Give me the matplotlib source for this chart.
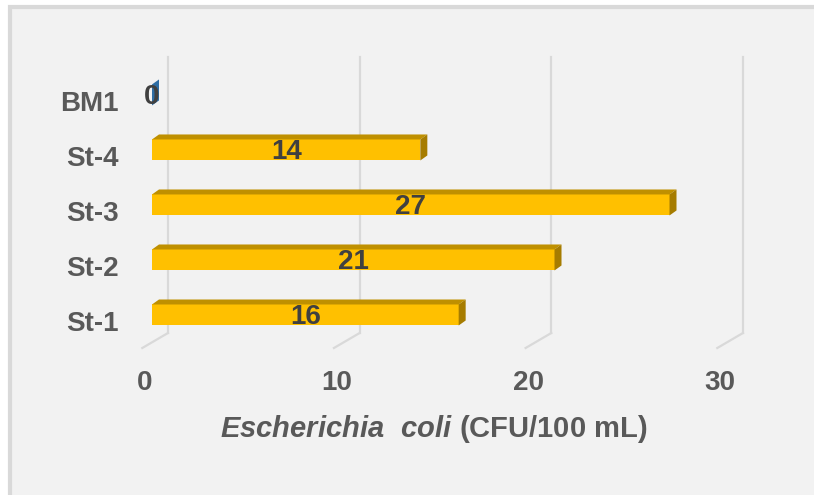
import matplotlib
matplotlib.use("Agg")
import matplotlib.pyplot as plt
from matplotlib.patches import Polygon, Rectangle
from matplotlib.transforms import ScaledTranslation

plt.rcParams['font.family'] = ['Liberation Sans', 'DejaVu Sans']
plt.rcParams['mathtext.fontset'] = 'custom'
plt.rcParams['mathtext.it'] = 'Liberation Sans:italic:bold'
plt.rcParams['mathtext.rm'] = 'Liberation Sans:bold'

# E. coli counts per station
stations = ['St-1', 'St-2', 'St-3', 'St-4', 'BM1']
ecoli = [16, 21, 27, 14, 0]
bar_colors = ['#ffc000', '#ffc000', '#ffc000', '#ffc000', '#2e6da4']
x_ticks = [0, 10, 20, 30]

top_c = '#bf9000'
side_c = '#a67c00'
grid_c = '#d9d9d9'

fig = plt.figure(figsize=(8.14, 4.95), dpi=100)
fig.patch.set_facecolor('white')
fig.add_artist(Rectangle((10 / 814, -0.05), 1.0, (495 - 6.5) / 495 + 0.05,
                         transform=fig.transFigure, facecolor='#f2f2f2',
                         edgecolor='#d9d9d9', linewidth=3, zorder=-5))

ax = fig.add_axes([152 / 814, 147 / 495, 575 / 814, 291 / 495])
ax.set_zorder(2)
ax.set_facecolor('none')
ax.set_xlim(0, 30)
ax.set_ylim(-0.6, 4.69)
for s in ax.spines.values():
    s.set_visible(False)

# back wall gridlines with the floor edge running to the front
back = ax.get_xaxis_transform() + ScaledTranslation(11.5 / 72, 0, fig.dpi_scale_trans)
floor = ax.get_xaxis_transform() + ScaledTranslation(-7 / 72, 0, fig.dpi_scale_trans)
wall_y0 = 15 / 291
for t in x_ticks:
    ax.plot([t, t], [wall_y0, 1.0], color=grid_c, lw=1.6, transform=back, clip_on=False, zorder=1)
    p0 = back.transform((t, wall_y0))
    p1 = floor.transform((t, 0))
    ax.plot([p0[0], p1[0]], [p0[1], p1[1]], color=grid_c, lw=1.6, transform=None,
            clip_on=False, zorder=1)

bh = 21 / 55
dx = 7 * 30 / 575   # depth of the 3D bars in data units
dy = 5 / 55
pos = list(range(len(stations)))
ax.barh(pos, ecoli, height=bh, color=bar_colors, zorder=3, linewidth=0)
for y, v, c in zip(pos, ecoli, bar_colors):
    tp = y + bh / 2
    bt = y - bh / 2
    if v > 0:
        ax.add_patch(Polygon([(0, tp), (v, tp), (v + dx, tp + dy), (dx, tp + dy)],
                             closed=True, facecolor=top_c, edgecolor='none', zorder=3))
        sc = side_c
    else:
        sc = c
    ax.add_patch(Polygon([(v, bt), (v, tp), (v + dx, tp + dy), (v + dx, bt + dy)],
                         closed=True, facecolor=sc, edgecolor='none', zorder=3))
    ax.text(v / 2, y - 0.03, str(v), ha='center', va='center', fontsize=20,
            fontweight='bold', color='#404040', zorder=4)

ax.set_yticks(pos)
ax.set_yticklabels(stations, fontsize=20, fontweight='bold', color='#595959')
ax.set_xticks(x_ticks)
ax.set_xticklabels([str(t) for t in x_ticks], fontsize=20, fontweight='bold', color='#595959')
ax.tick_params(axis='both', length=0)
ax.tick_params(axis='y', pad=24)
ax.tick_params(axis='x', pad=16)
for lab in ax.get_xticklabels():
    lab.set_transform(lab.get_transform() + ScaledTranslation(-5 / 72, 0, fig.dpi_scale_trans))
for lab in ax.get_yticklabels():
    lab.set_transform(lab.get_transform() + ScaledTranslation(0, -4 / 72, fig.dpi_scale_trans))

ax.text(0.4896, -0.278, r'$\it{Escherichia\ \ coli}$ (CFU/100 mL)', transform=ax.transAxes,
        ha='center', va='center', fontsize=21, fontweight='bold', color='#595959')

fig.savefig('out.png', dpi=100, facecolor=fig.get_facecolor())
